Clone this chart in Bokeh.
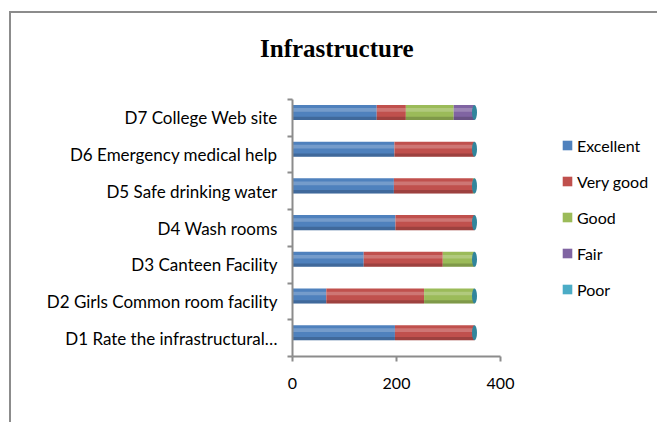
import numpy as np
from bokeh.plotting import figure
from bokeh.layouts import column
from bokeh.models import (FactorRange, Range1d, LinearAxis, CategoricalAxis, FixedTicker,
                          Legend, LegendItem, ColumnDataSource, CustomJSTickFormatter, Div)
from bokeh.transform import dodge
from bokeh.embed import file_html
from bokeh.resources import INLINE

# ---------------- data ----------------
categories = ["D1 Rate the infrastructural\u2026", "D2 Girls Common room facility",
              "D3 Canteen Facility", "D4 Wash rooms", "D5 Safe drinking water",
              "D6 Emergency medical help", "D7 College Web site"]
series = ["Excellent", "Very good", "Good", "Fair", "Poor"]
excellent = [197, 65, 137, 198, 195, 196, 162]
very_good = [153, 188, 152, 152, 152, 154, 56]
good = [0, 97, 61, 0, 3, 0, 92]
fair = [0, 0, 0, 0, 0, 0, 40]
poor = [0, 0, 0, 0, 0, 0, 0]
colors = ["#4F81BD", "#C0504D", "#9BBB59", "#8064A2", "#4BACC6"]
x_ticks = [0, 200, 400]
title_text = "Infrastructure"

FONT = "Lato"
# canvas origin on the page (inside the 2px chart border)
OX, OY = 11, 13
HT = 60                                   # height of the title strip
FL, FR = 292 - OX, 500 - OX
FT, FB = 99 - OY - HT, 356 - OY - HT
W, H = 657 - OX, 422 - OY - HT

title_div = Div(text=title_text, width=W, height=HT, margin=0,
                styles={"font-family": "Liberation Serif", "font-weight": "bold",
                        "font-size": "25px", "line-height": "25px", "color": "#000000",
                        "padding-left": "249px", "padding-top": "23px",
                        "box-sizing": "border-box", "background-color": "white"})

p = figure(frame_width=FR - FL, frame_height=FB - FT, output_backend="svg", toolbar_location=None,
           y_range=FactorRange(*categories), x_range=Range1d(0, 400),
           x_axis_location=None, y_axis_location=None,
           min_border_left=FL, min_border_right=W - FR,
           min_border_top=FT, min_border_bottom=H - FB)
p.outline_line_color = None
p.xgrid.visible = False
p.ygrid.visible = False
p.background_fill_color = "white"
p.border_fill_color = "white"

# stacked data
vals = np.array([excellent, very_good, good, fair, poor], dtype=float)
cum = np.cumsum(vals, axis=0)
lefts = cum - vals
BAR_H = 0.41
DY = 0.147

renderers = []
for i, s in enumerate(series):
    src = ColumnDataSource(dict(cat=categories, left=lefts[i], right=cum[i]))
    r = p.hbar(y=dodge("cat", DY, range=p.y_range), left="left", right="right", height=BAR_H,
               source=src, fill_color=colors[i], line_color=None)
    renderers.append(r)
    # cylinder shading
    p.hbar(y=dodge("cat", DY + 0.07, range=p.y_range), left="left", right="right", height=0.1,
           source=src, fill_color="white", fill_alpha=0.22, line_color=None)
    p.hbar(y=dodge("cat", DY - 0.16, range=p.y_range), left="left", right="right", height=0.09,
           source=src, fill_color="black", fill_alpha=0.18, line_color=None)

# end caps of cylinders (Poor colour)
cap_src = ColumnDataSource(dict(cat=categories, x=cum[-1]))
p.ellipse(x="x", y=dodge("cat", DY, range=p.y_range), width=5, width_units="screen",
          height=BAR_H, source=cap_src, fill_color="#31859C", line_color=None)

# y axis: tick marks on category boundaries (synthetic coordinates 0..n), no labels
tick_axis = LinearAxis(ticker=FixedTicker(ticks=list(range(len(categories) + 1))),
                       formatter=CustomJSTickFormatter(code="return ''"))
tick_axis.major_label_standoff = 0
tick_axis.major_tick_out = 5
tick_axis.major_tick_in = 0
tick_axis.minor_tick_out = 0
tick_axis.minor_tick_in = 0
tick_axis.axis_line_color = "#8C8C8C"
tick_axis.axis_line_width = 2
tick_axis.major_tick_line_color = "#8C8C8C"
tick_axis.major_tick_line_width = 2
p.add_layout(tick_axis, "left")

label_axis = CategoricalAxis()
label_axis.axis_line_color = None
label_axis.major_tick_line_color = None
label_axis.major_tick_out = 0
label_axis.major_label_standoff = 10
label_axis.major_label_text_font = FONT
label_axis.major_label_text_font_size = "17px"
label_axis.major_label_text_color = "#000000"
p.add_layout(label_axis, "left")

# x axis
x_axis = LinearAxis(ticker=FixedTicker(ticks=x_ticks))
x_axis.major_tick_out = 5
x_axis.major_tick_in = 0
x_axis.minor_tick_out = 0
x_axis.minor_tick_in = 0
x_axis.axis_line_color = "#8C8C8C"
x_axis.axis_line_width = 2
x_axis.major_tick_line_color = "#8C8C8C"
x_axis.major_tick_line_width = 2
x_axis.major_label_standoff = 16
x_axis.major_label_text_font = FONT
x_axis.major_label_text_font_size = "16px"
x_axis.major_label_text_color = "#000000"
p.add_layout(x_axis, "below")

# legend in the right panel
legend = Legend(items=[LegendItem(label=s, renderers=[r]) for s, r in zip(series, renderers)],
                location=(561 - 500, 356 - 299), glyph_width=12, glyph_height=12, label_standoff=4,
                spacing=16, label_height=20, padding=0, margin=0,
                border_line_color=None, background_fill_alpha=0,
                label_text_font=FONT, label_text_font_size="16px", label_text_color="#000000")
p.add_layout(legend, "right")

layout = column(title_div, p, spacing=0)
layout.styles = {"border-left": "2px solid #8C8C8C", "border-top": "2px solid #8C8C8C",
                 "margin-left": "9px", "margin-top": "11px"}

open("out.html", "w").write(file_html(layout, INLINE))
